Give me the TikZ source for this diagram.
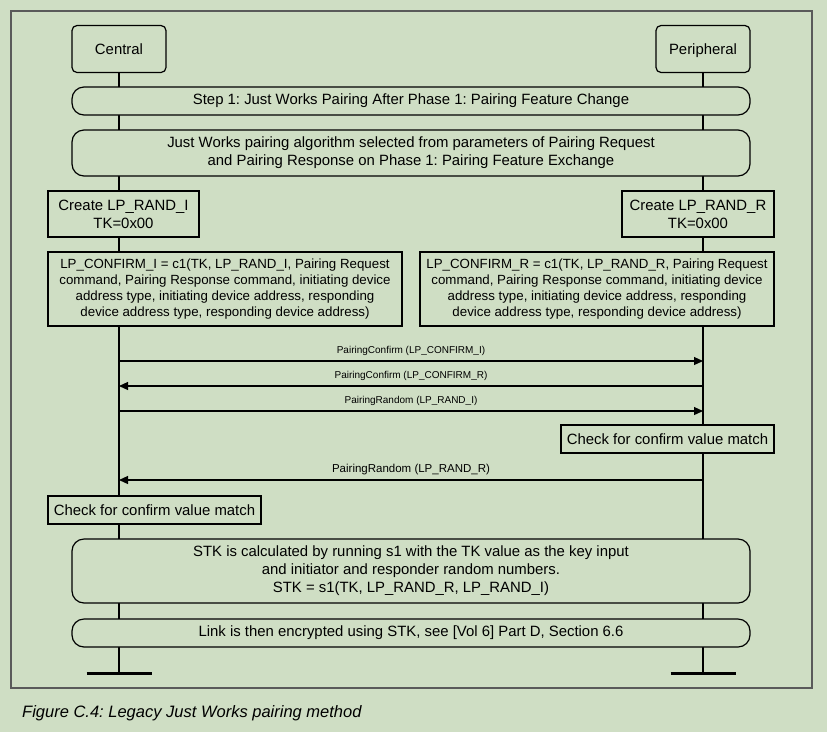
\documentclass[tikz,border=0pt]{standalone}
\usepackage{fontspec}
\setmainfont{Liberation Sans}
\usetikzlibrary{arrows.meta,positioning,backgrounds}
\usepackage{xcolor}
\definecolor{bggreen}{RGB}{207,222,196}
\definecolor{framegray}{RGB}{90,90,90}
\frenchspacing

\begin{document}
\begin{tikzpicture}[x=1pt, y=-1pt,
    actor/.style={draw, rounded corners=5pt, line width=1.2pt, fill=bggreen, minimum width=94pt, minimum height=47pt, inner sep=0pt, text height=10.7pt, text depth=0pt, font=\fontsize{14.9}{18}\selectfont},
    banner/.style={draw, rounded corners=12pt, line width=1.2pt, fill=bggreen, minimum width=678pt, inner sep=0pt, align=center, font=\fontsize{14.9}{18}\selectfont},
    act/.style={draw, line width=1.2pt, fill=bggreen, inner sep=0pt, align=center, font=\fontsize{14.9}{18}\selectfont},
    calc/.style={draw, line width=1.2pt, fill=bggreen, inner sep=0pt, align=center, minimum width=354pt, minimum height=74pt, font=\fontsize{13.3}{16}\selectfont},
    msg/.style={line width=1.2pt, -{Triangle[length=9pt, width=8pt]}},
    msglabel/.style={font=\fontsize{10}{12}\selectfont, inner sep=0pt, anchor=base}
]
    \useasboundingbox (0,0) rectangle (827,732);

    \node[actor] (central) at (119,49) {Central};
    \node[actor] (periph) at (703,49) {Peripheral};

    \node[banner, minimum height=28pt] (step1) at (411,101) {Step 1: Just Works Pairing After Phase 1: Pairing Feature Change};
    \node[banner, minimum height=46pt] (select) at (411,153) {Just Works pairing algorithm selected from parameters of Pairing Request\\and Pairing Response on Phase 1: Pairing Feature Exchange};

    \node[act, minimum width=151pt, minimum height=46pt] (randI) at (123.5,214) {Create LP\_RAND\_I\\TK=0x00};
    \node[act, minimum width=152pt, minimum height=46pt] (randR) at (698,214) {Create LP\_RAND\_R\\TK=0x00};

    \node[calc] (confI) at (225,289) {LP\_CONFIRM\_I = c1(TK, LP\_RAND\_I, Pairing Request\\command, Pairing Response command, initiating device\\address type, initiating device address, responding\\device address type, responding device address)};
    \node[calc] (confR) at (597,289) {LP\_CONFIRM\_R = c1(TK, LP\_RAND\_R, Pairing Request\\command, Pairing Response command, initiating device\\address type, initiating device address, responding\\device address type, responding device address)};

    \node[act, minimum width=213pt, minimum height=28pt] (checkR) at (667.5,439) {Check for confirm value match};
    \node[act, minimum width=213pt, minimum height=28pt] (checkI) at (154.5,510) {Check for confirm value match};

    \node[banner, minimum height=64pt] (stk) at (411,571) {STK is calculated by running s1 with the TK value as the key input\\and initiator and responder random numbers.\\STK = s1(TK, LP\_RAND\_R, LP\_RAND\_I)};
    \node[banner, minimum height=28pt] (link) at (411,633) {Link is then encrypted using STK, see [Vol 6] Part D, Section 6.6};

    % lifeline ends
    \coordinate (endI) at (119,673);
    \coordinate (endR) at (703,673);

    % message points on the lifelines
    \coordinate (m1I) at (119,361); \coordinate (m1R) at (703,361);
    \coordinate (m2I) at (119,386); \coordinate (m2R) at (703,386);
    \coordinate (m3I) at (119,411); \coordinate (m3R) at (703,411);
    \coordinate (m4I) at (119,480); \coordinate (m4R) at (703,480);

    \begin{scope}[on background layer]
        \fill[bggreen] (0,0) rectangle (827,732);
        \draw[framegray, line width=1.3pt] (11,11) rectangle (812,688);
        \draw[line width=1.2pt] (central.south) -- (endI);
        \draw[line width=1.2pt] (periph.south) -- (endR);
    \end{scope}
    \draw[line width=3pt] ([xshift=-32.5pt]endI) -- ([xshift=32.5pt]endI);
    \draw[line width=3pt] ([xshift=-32.5pt]endR) -- ([xshift=32.5pt]endR);

    \draw[msg] (m1I) -- node[msglabel, above=5pt] {PairingConfirm (LP\_CONFIRM\_I)} (m1R);
    \draw[msg] (m2R) -- node[msglabel, above=5pt] {PairingConfirm (LP\_CONFIRM\_R)} (m2I);
    \draw[msg] (m3I) -- node[msglabel, above=5pt] {PairingRandom (LP\_RAND\_I)} (m3R);
    \draw[msg] (m4R) -- node[msglabel, above=5pt, font=\fontsize{11.5}{14}\selectfont] {PairingRandom (LP\_RAND\_R)} (m4I);

    \node[anchor=west, inner sep=0pt, font=\fontsize{16.5}{20}\selectfont\itshape] (caption) at (22,713) {Figure C.4: Legacy Just Works pairing method};
\end{tikzpicture}
\end{document}
